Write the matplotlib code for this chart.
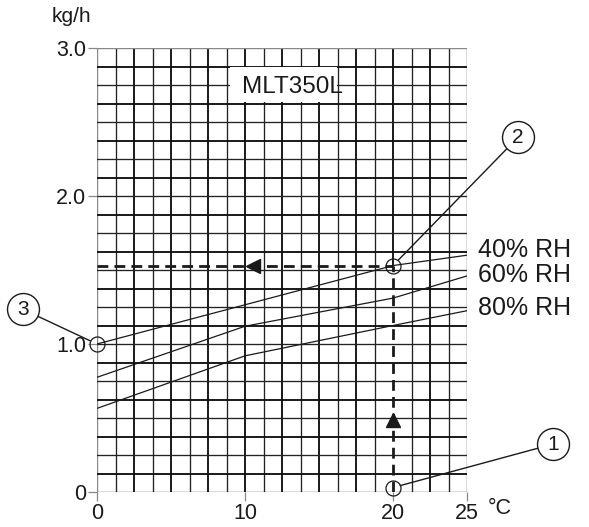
import numpy as np
import matplotlib.pyplot as plt
from matplotlib.patches import Rectangle

plt.rcParams['font.family'] = ['Liberation Sans', 'DejaVu Sans']

# curve data (temperature degC -> kg/h)
temp_40 = [0, 20, 25]
flow_40 = [1.0, 1.53, 1.60]
temp_60 = [0, 10, 20, 25]
flow_60 = [0.775, 1.12, 1.31, 1.46]
temp_80 = [0, 10, 20, 25]
flow_80 = [0.565, 0.92, 1.125, 1.225]
curve_names = ['40% RH', '60% RH', '80% RH']

# reading example: 20 degC -> 1.53 kg/h
read_temp = 20
read_flow = 1.53

# numbered callouts
callout_nums = ['1', '2', '3']
callout_x = [20, 20, 0]
callout_y = [0.03, 1.53, 1.0]

xticks = [0, 10, 20, 25]
xticklabels = ['0', '10', '20', '25']
yticks = [0, 1, 2, 3]
yticklabels = ['0', '1.0', '2.0', '3.0']

ink = '#1a1a1a'

fig = plt.figure(figsize=(5.89, 5.27), dpi=100)
ax = fig.add_axes([97 / 589, 35 / 527, 370 / 589, 444 / 527])
ax.set_xlim(0, 25)
ax.set_ylim(0, 3)
for s in ax.spines.values():
    s.set_visible(False)

# grid (the x=20 line is left out below the reading, where the dashed line runs)
for i, gx in enumerate(np.arange(0, 25.01, 1.25)):
    if i == 0:
        color, lw = '#888888', 1.0
    elif i % 2 == 0 and i < 20:
        color, lw = '#111111', 1.35
    else:
        color, lw = '#222222', 0.95
    ymin = read_flow / 3 if gx == read_temp else 0
    ax.axvline(gx, ymin=ymin, color=color, lw=lw, zorder=1)
for j, gy in enumerate(np.arange(0, 3.001, 0.125)):
    if j == 24:
        color, lw = '#888888', 1.0
    elif j % 2 == 1:
        color, lw = '#111111', 1.35
    else:
        color, lw = '#222222', 0.95
    ax.axhline(gy, color=color, lw=lw, zorder=1)

# model label
ax.add_patch(Rectangle((9.0, 2.635), 7.2, 0.235, facecolor='white', edgecolor='none', zorder=2))
ax.text(13.2, 2.735, 'MLT350L', fontsize=17.5, color=ink, ha='center', va='center', zorder=3)

# curves
ax.plot(temp_40, flow_40, color=ink, lw=0.9, zorder=3)
ax.plot(temp_60, flow_60, color=ink, lw=0.9, zorder=3)
ax.plot(temp_80, flow_80, color=ink, lw=0.9, zorder=3)
for name, yv in zip(curve_names, [1.635, 1.466, 1.243]):
    ax.text(25.75, yv, name, fontsize=18, color=ink, ha='left', va='center', clip_on=False)

# reading lines with arrows
dash = (0, (3.9, 2.2))
ax.plot([0, read_temp], [read_flow, read_flow], color=ink, lw=2.0, ls=dash, zorder=4)
ax.plot([read_temp, read_temp], [0, read_flow], color=ink, lw=2.0, ls=dash, zorder=4)
ax.plot(10.54, read_flow, marker='<', ms=10.5, color=ink, zorder=5)
ax.plot(read_temp, 0.486, marker='^', ms=10.5, color=ink, zorder=5)

# callouts
label_pos = [(30.83, 0.324), (28.45, 2.397), (-5.02, 1.235)]
for num, px, py, (lx, ly) in zip(callout_nums, callout_x, callout_y, label_pos):
    ax.annotate('', xy=(px, py), xytext=(lx, ly),
                arrowprops=dict(arrowstyle='-', color=ink, lw=1.0, shrinkA=11.5, shrinkB=5.4),
                annotation_clip=False, zorder=5)
    ax.plot(px, py, marker='o', ms=10.8, mfc='none', mec=ink, mew=0.9, clip_on=False, zorder=6)
    ax.plot(lx, ly, marker='o', ms=23, mfc='white', mec=ink, mew=1.0, clip_on=False, zorder=6)
    ax.text(lx, ly, num, fontsize=15, color=ink, ha='center', va='center', zorder=7, clip_on=False)

# ticks
ax.set_xticks(xticks)
ax.set_xticklabels(xticklabels)
ax.set_yticks(yticks)
ax.set_yticklabels(yticklabels)
ax.tick_params(direction='out', length=6.5, width=0.9, color='#888888', labelsize=15.5,
               labelcolor=ink, pad=1.5)

fig.text(71 / 589, 1 - 17 / 527, 'kg/h', fontsize=15, color=ink, ha='center', va='center')
fig.text(500 / 589, 1 - 508 / 527, '°C', fontsize=15.5, color=ink, ha='center', va='center')

fig.savefig('out.png', dpi=100)
